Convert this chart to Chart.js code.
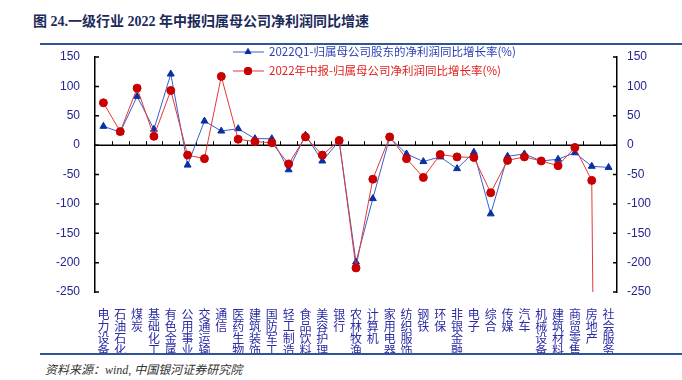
<!DOCTYPE html>
<html>
<head>
<meta charset="utf-8">
<script src="https://cdn.jsdelivr.net/npm/chart.js@4/dist/chart.umd.min.js"></script>
<style>
    html, body { margin: 0; padding: 0; background: #fff; }
    body { width: 682px; height: 380px; position: relative; overflow: hidden; }
    .title {
        position: absolute; left: 33px; top: 10px;
        font: bold 14px "Liberation Serif", "Noto Sans CJK SC", serif; color: #1c2a5a;
        white-space: nowrap;
    }
    .rule { position: absolute; left: 40px; width: 642px; height: 2px; background: #2f5597; }
    .source {
        position: absolute; left: 45px; top: 360px;
        font: italic 12px "Liberation Serif", "Noto Sans CJK SC", serif; color: #333;
        white-space: nowrap;
    }
    #wrap { position: absolute; left: 0; top: 44px; width: 682px; height: 309px; overflow: hidden; }
</style>
</head>
<body>
<div class="title">图 24.一级行业 2022 年中报归属母公司净利润同比增速</div>
<div class="rule" style="top:43px"></div>
<div id="wrap"><canvas id="chart" width="682" height="310"></canvas></div>
<div class="rule" style="top:353px"></div>
<div class="source">资料来源：wind, 中国银河证券研究院</div>
<script>
// Industry categories (SW level 1)
const categories = [
    '电力设备', '石油石化', '煤炭', '基础化工', '有色金属', '公用事业', '交通运输', '通信',
    '医药生物', '建筑装饰', '国防军工', '轻工制造', '食品饮料', '美容护理', '银行', '农林牧渔',
    '计算机', '家用电器', '纺织服饰', '钢铁', '环保', '非银金融', '电子', '综合',
    '传媒', '汽车', '机械设备', '建筑材料', '商贸零售', '房地产', '社会服务'
];

// 2022Q1 net profit growth (%)
const q1Growth = [
    32, 22, 83, 27, 121, -34, 41, 24, 28, 11, 11, -42, 17, -27, 7, -199,
    -91, 13, -15, -28, -20, -40, -12, -117, -19, -15, -27, -24, -13, -36, -38
];

// 2022 H1 net profit growth (%) - last value far below the axis
const h1Growth = [
    72, 23, 97, 15, 93, -17, -23, 117, 10, 6, 4, -32, 14, -17, 8, -209,
    -58, 14, -23, -55, -16, -20, -21, -81, -26, -20, -27, -35, -4, -60, -3000
];

const legendLabels = [
    '2022Q1-归属母公司股东的净利润同比增长率(%)',
    '2022年中报-归属母公司净利润同比增长率(%)'
];

const Y_MIN = -250, Y_MAX = 150, Y_STEP = 50;

const BLUE_LINE = '#3a5fcd';
const BLUE_MARK = '#0b2fa3';
const RED_LINE = '#e03a3a';
const RED_MARK = '#c80000';
const TICK_TEXT = '#25258f';

// Zero line with upward ticks, inward y-axis ticks, and the legend
const decorPlugin = {
    id: 'decor',
    beforeDatasetsDraw(chart) {
        const { ctx, chartArea, scales } = chart;
        const y0 = scales.y.getPixelForValue(0);
        ctx.save();
        ctx.strokeStyle = '#000';
        ctx.lineWidth = 1.5;
        ctx.beginPath();
        ctx.moveTo(chartArea.left, y0);
        ctx.lineTo(chartArea.right, y0);
        ctx.stroke();

        ctx.lineWidth = 1;
        ctx.beginPath();
        const n = categories.length;
        for (let i = 1; i < n; i++) {
            const x = Math.round((scales.x.getPixelForValue(i - 1) + scales.x.getPixelForValue(i)) / 2) + 0.5;
            ctx.moveTo(x, y0);
            ctx.lineTo(x, y0 - 4);
        }
        ctx.stroke();

        ctx.lineWidth = 1.5;
        ctx.beginPath();
        for (let v = Y_MIN; v <= Y_MAX; v += Y_STEP) {
            const y = scales.y.getPixelForValue(v);
            ctx.moveTo(chartArea.left, y);
            ctx.lineTo(chartArea.left + 4, y);
            ctx.moveTo(chartArea.right, y);
            ctx.lineTo(chartArea.right - 4, y);
        }
        ctx.stroke();
        ctx.restore();
    },
    afterDraw(chart) {
        const { ctx, chartArea } = chart;
        const lx = chartArea.left + 138;
        const rows = [
            { y: chartArea.top - 5, line: BLUE_LINE, mark: BLUE_MARK, style: 'triangle', text: legendLabels[0], color: '#2a3fb5' },
            { y: chartArea.top + 14, line: RED_LINE, mark: RED_MARK, style: 'circle', text: legendLabels[1], color: '#e02020' }
        ];
        ctx.save();
        rows.forEach(r => {
            ctx.strokeStyle = r.line;
            ctx.lineWidth = 1;
            ctx.beginPath();
            ctx.moveTo(lx, r.y);
            ctx.lineTo(lx + 31, r.y);
            ctx.stroke();
            ctx.fillStyle = r.mark;
            Chart.helpers.drawPoint(ctx, { pointStyle: r.style, radius: 4, rotation: 0, borderWidth: 0 }, lx + 15, r.y);
            ctx.fill();
            ctx.fillStyle = r.color;
            ctx.font = '11.5px "Noto Sans CJK SC", sans-serif';
            ctx.textBaseline = 'middle';
            ctx.textAlign = 'left';
            ctx.fillText(r.text, lx + 36, r.y);
        });
        ctx.restore();
    }
};

const yTickFont = { family: '"Liberation Sans", Arial, sans-serif', size: 12 };

// fixed axis widths, no extra vertical padding from the tick labels
const fitY = (width) => (scale) => {
    scale.width = width;
    scale.paddingTop = 0;
    scale.paddingBottom = 0;
};

new Chart(document.getElementById('chart'), {
    type: 'line',
    data: {
        labels: categories.map(c => c.split('')),
        datasets: [
            {
                label: legendLabels[0],
                data: q1Growth,
                borderColor: BLUE_LINE,
                backgroundColor: BLUE_MARK,
                pointBackgroundColor: BLUE_MARK,
                pointBorderColor: BLUE_MARK,
                pointStyle: 'triangle',
                pointRadius: 4,
                borderWidth: 1,
                tension: 0,
                order: 1
            },
            {
                label: legendLabels[1],
                data: h1Growth,
                borderColor: RED_LINE,
                backgroundColor: RED_MARK,
                pointBackgroundColor: RED_MARK,
                pointBorderColor: RED_MARK,
                pointStyle: 'circle',
                pointRadius: 4,
                borderWidth: 1,
                tension: 0,
                order: 0
            }
        ]
    },
    options: {
        responsive: false,
        animation: false,
        devicePixelRatio: 1,
        layout: { padding: { top: 13, left: 0, right: 0, bottom: 0 } },
        plugins: {
            legend: { display: false },
            tooltip: { enabled: false }
        },
        scales: {
            x: {
                type: 'category',
                offset: true,
                grid: { display: false },
                border: { display: false },
                ticks: {
                    autoSkip: false,
                    maxRotation: 0,
                    minRotation: 0,
                    padding: 9,
                    color: '#2a2aa5',
                    font: { family: '"Noto Sans CJK SC", sans-serif', size: 12, lineHeight: '11.7px' }
                },
                afterFit: (scale) => { scale.height = 62; }
            },
            y: {
                position: 'left',
                min: Y_MIN,
                max: Y_MAX,
                grid: { display: false, drawTicks: false },
                border: { display: true, color: '#000', width: 1.5 },
                ticks: { stepSize: Y_STEP, padding: 15, color: TICK_TEXT, font: yTickFont },
                afterFit: fitY(95)
            },
            y2: {
                position: 'right',
                min: Y_MIN,
                max: Y_MAX,
                grid: { display: false, drawTicks: false },
                border: { display: true, color: '#000', width: 1.5 },
                ticks: { stepSize: Y_STEP, padding: 10, color: TICK_TEXT, font: yTickFont },
                afterFit: fitY(65)
            }
        }
    },
    plugins: [decorPlugin]
});
</script>
</body>
</html>
